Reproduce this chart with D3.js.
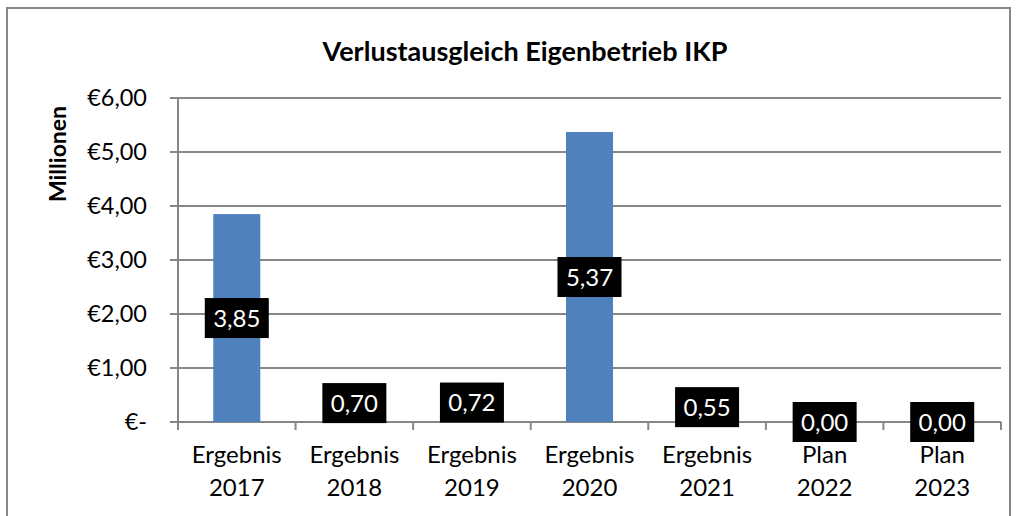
<!DOCTYPE html>
<html>
<head>
<meta charset="utf-8">
<script src="https://cdn.jsdelivr.net/npm/d3@7"></script>
<style>
  body { margin: 0; background: #fff; }
  svg text { font-family: Lato, "Open Sans", sans-serif; }
</style>
</head>
<body>
<div id="chart"></div>
<script>
// Data
var categories = ['Ergebnis 2017', 'Ergebnis 2018', 'Ergebnis 2019', 'Ergebnis 2020', 'Ergebnis 2021', 'Plan 2022', 'Plan 2023'];
var values = [3.85, 0.70, 0.72, 5.37, 0.55, 0.00, 0.00];
var yTicks = [0, 1, 2, 3, 4, 5, 6];

var W = 1017, H = 516;
var margin = { left: 178, right: 16, top: 98, bottom: 94 };
var plotW = W - margin.left - margin.right;
var plotH = H - margin.top - margin.bottom;

var svg = d3.select('#chart')
    .append('svg')
    .attr('width', W)
    .attr('height', H);

// chart border
svg.append('rect')
    .attr('x', 7)
    .attr('y', 8)
    .attr('width', 1003)
    .attr('height', 520)
    .attr('fill', 'none')
    .attr('stroke', '#868686')
    .attr('stroke-width', 2);

// title
svg.append('text')
    .attr('x', 525)
    .attr('y', 61)
    .attr('text-anchor', 'middle')
    .style('font-size', '27px')
    .style('font-weight', 'bold')
    .text('Verlustausgleich Eigenbetrieb IKP');

// y axis title
svg.append('text')
    .attr('transform', 'translate(66, 154) rotate(-90)')
    .attr('text-anchor', 'middle')
    .style('font-size', '23px')
    .style('font-weight', 'bold')
    .text('Millionen');

var g = svg.append('g')
    .attr('transform', 'translate(' + margin.left + ',' + margin.top + ')');

var x = d3.scaleBand()
    .domain(categories)
    .range([0, plotW])
    .paddingInner(0.6)
    .paddingOuter(0.3);

var xOuter = d3.scaleBand()
    .domain(categories)
    .range([0, plotW]);

var y = d3.scaleLinear()
    .domain([0, 6])
    .range([plotH, 0]);

var euro = function (v) {
    return v === 0 ? '€-' : '€' + v.toFixed(2).replace('.', ',');
};

// gridlines
g.selectAll('.grid')
    .data(yTicks)
    .enter()
    .append('line')
    .attr('x1', -8)
    .attr('x2', plotW)
    .attr('y1', function (d) { return y(d); })
    .attr('y2', function (d) { return y(d); })
    .attr('stroke', '#868686')
    .attr('stroke-width', 2);

// bars
g.selectAll('.bar')
    .data(values)
    .enter()
    .append('rect')
    .attr('x', function (d, i) { return x(categories[i]); })
    .attr('y', function (d) { return y(d); })
    .attr('width', x.bandwidth())
    .attr('height', function (d) { return plotH - y(d); })
    .attr('fill', '#4f81bd');

// y axis
var yAxis = d3.axisLeft(y)
    .tickValues(yTicks)
    .tickSize(0)
    .tickPadding(31)
    .tickFormat(euro);

var yg = g.append('g').call(yAxis);
yg.select('.domain').remove();
yg.selectAll('text')
    .style('font-size', '23.5px')
    .attr('fill', '#000');

g.append('line')
    .attr('x1', 0).attr('x2', 0)
    .attr('y1', 0).attr('y2', plotH + 8)
    .attr('stroke', '#868686')
    .attr('stroke-width', 2);

// x axis tick marks at band boundaries
var bounds = categories.map(function (c) { return xOuter(c); }).concat([plotW]);
g.selectAll('.xtick')
    .data(bounds)
    .enter()
    .append('line')
    .attr('x1', function (d) { return d; })
    .attr('x2', function (d) { return d; })
    .attr('y1', plotH)
    .attr('y2', plotH + 8)
    .attr('stroke', '#868686')
    .attr('stroke-width', 2);

// x labels (two lines)
var xl = g.selectAll('.xlabel')
    .data(categories)
    .enter()
    .append('text')
    .attr('text-anchor', 'middle')
    .style('font-size', '24px')
    .attr('fill', '#000')
    .attr('transform', function (d) {
        return 'translate(' + (xOuter(d) + xOuter.bandwidth() / 2) + ',' + (plotH + 41) + ')';
    });
xl.append('tspan')
    .attr('x', 0)
    .attr('y', 0)
    .text(function (d) { return d.split(' ')[0]; });
xl.append('tspan')
    .attr('x', 0)
    .attr('y', 33)
    .text(function (d) { return d.split(' ')[1]; });

// data labels: black boxes centered on bars
var lab = g.selectAll('.dlabel')
    .data(values)
    .enter()
    .append('g')
    .attr('transform', function (d, i) {
        var cx = x(categories[i]) + x.bandwidth() / 2;
        var cy = (y(d) + y(0)) / 2;
        return 'translate(' + cx + ',' + cy + ')';
    });
lab.append('rect')
    .attr('x', -32)
    .attr('y', -20)
    .attr('width', 64)
    .attr('height', 40)
    .attr('fill', '#000');
lab.append('text')
    .attr('text-anchor', 'middle')
    .attr('dy', '0.36em')
    .attr('fill', '#fff')
    .style('font-size', '24px')
    .text(function (d) { return d.toFixed(2).replace('.', ','); });
</script>
</body>
</html>
